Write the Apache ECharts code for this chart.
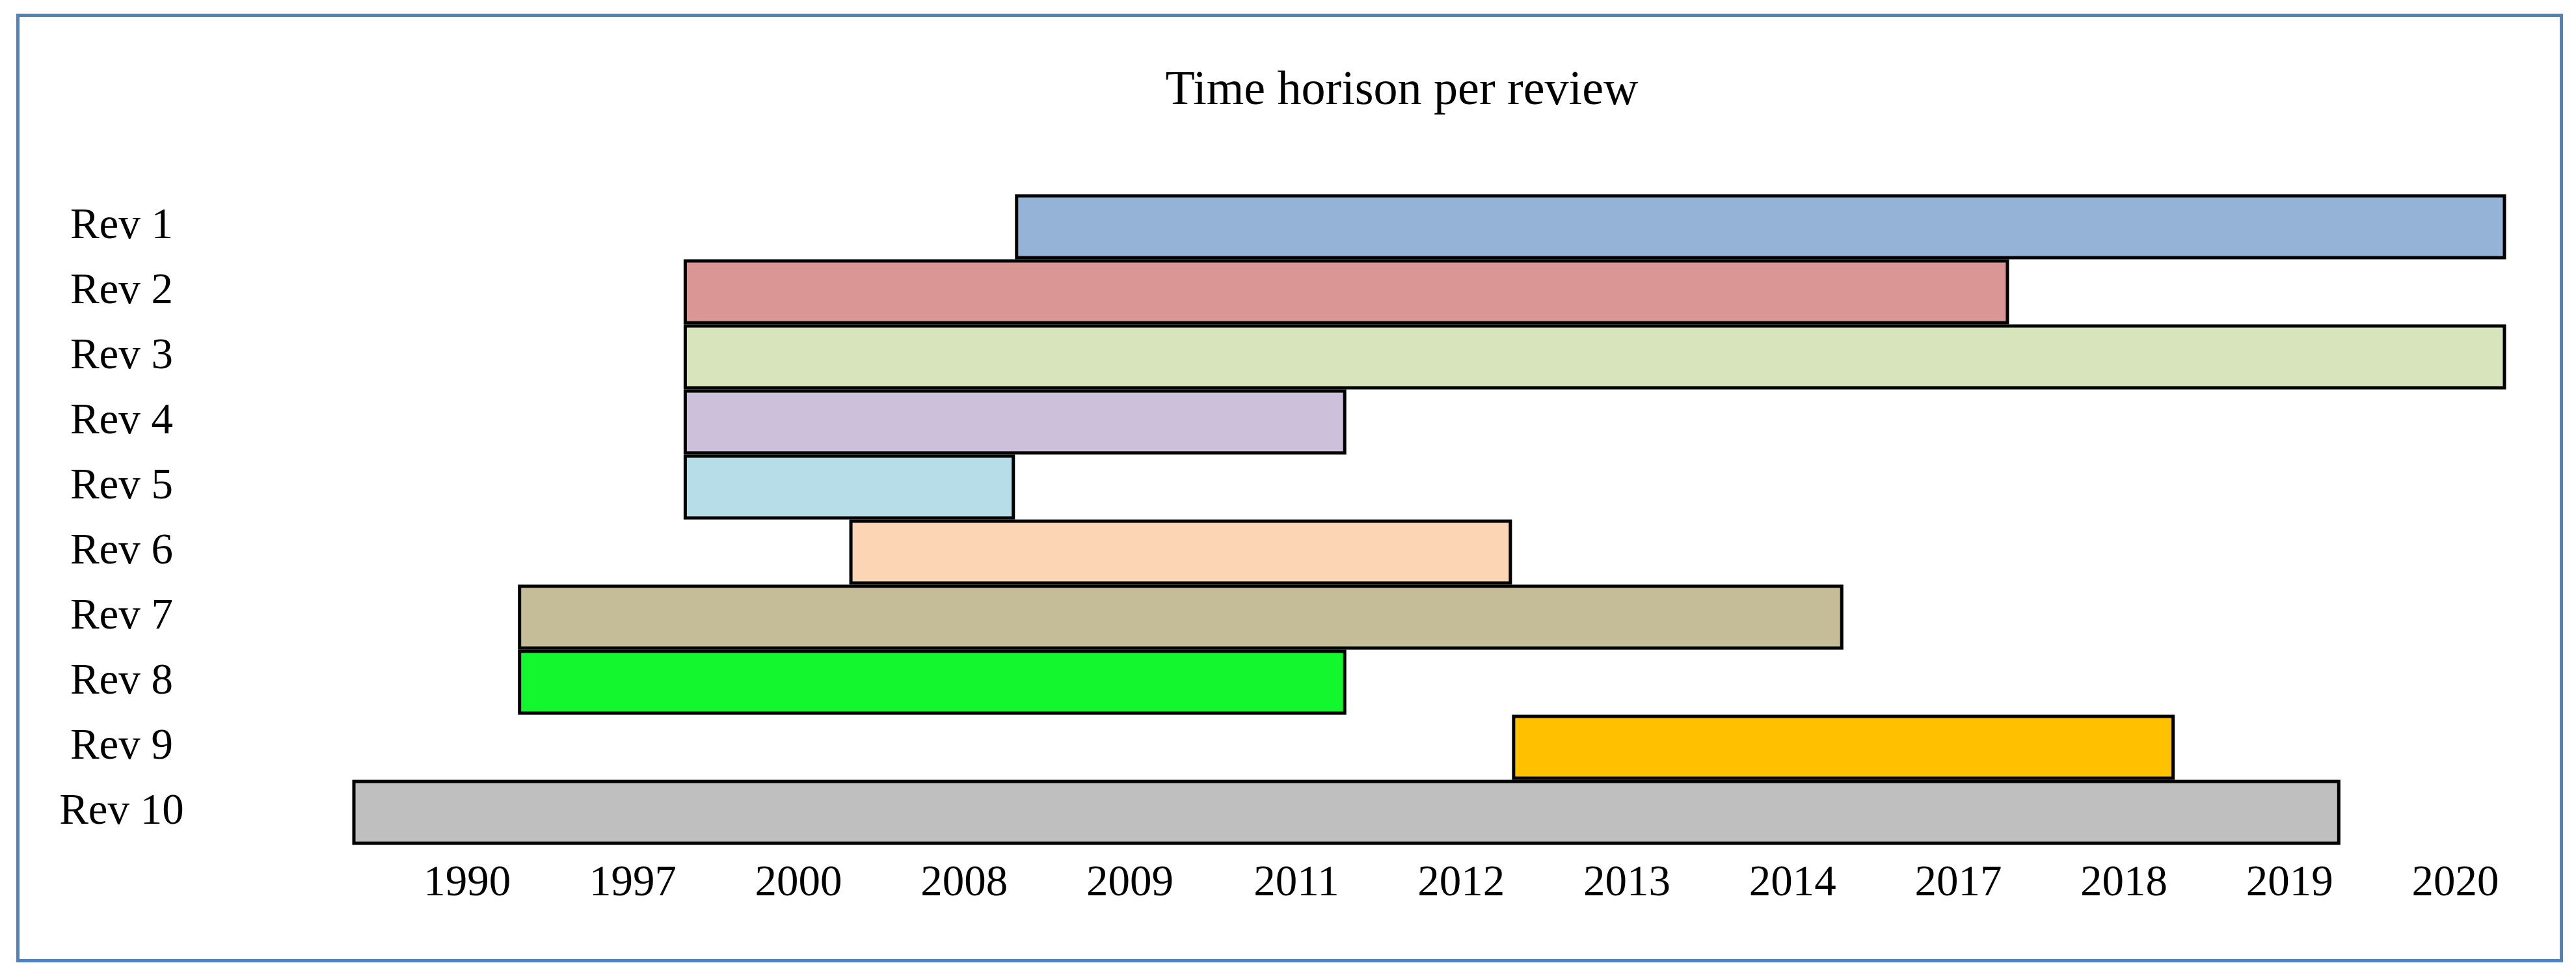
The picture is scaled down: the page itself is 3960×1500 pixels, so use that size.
<!DOCTYPE html>
<html>
<head>
<meta charset="utf-8">
<script src="https://cdn.jsdelivr.net/npm/echarts@6/dist/echarts.min.js"></script>
<style>
  html, body { margin: 0; padding: 0; background: #ffffff; }
  #chart { width: 3960px; height: 1500px; }
</style>
</head>
<body>
<div id="chart"></div>
<script>
// ---- data ----
const reviews = ['Rev 1', 'Rev 2', 'Rev 3', 'Rev 4', 'Rev 5', 'Rev 6', 'Rev 7', 'Rev 8', 'Rev 9', 'Rev 10'];
const years = ['1990', '1997', '2000', '2008', '2009', '2011', '2012', '2013', '2014', '2017', '2018', '2019', '2020'];
const startYear = ['2009', '2000', '2000', '2000', '2000', '2008', '1997', '1997', '2013', '1990'];
const endYear   = ['2020', '2017', '2020', '2011', '2008', '2012', '2014', '2011', '2018', '2019'];
const titleText = 'Time horison per review';

// ---- styles ----
const barColors = ['#95B3D7', '#DA9694', '#D8E4BC', '#CCC0DA', '#B7DEE8', '#FCD5B4', '#C4BD97', '#13F72E', '#FFC000', '#BFBFBF'];
const FONT = '"Liberation Serif", "Times New Roman", serif';

const baseVals = startYear.map(y => years.indexOf(y));
const spanVals = endYear.map((y, i) => years.indexOf(y) + 1 - baseVals[i]);

const chart = echarts.init(document.getElementById('chart'), null, { renderer: 'canvas' });
chart.setOption({
  backgroundColor: '#ffffff',
  animation: false,
  title: {
    text: titleText,
    left: 2155,
    top: 104,
    padding: 0,
    textAlign: 'center',
    textStyle: { fontFamily: FONT, fontSize: 74, fontWeight: 'normal', color: '#000000', lineHeight: 74 }
  },
  grid: { left: 541.5, right: 107.5, top: 298.5, bottom: 201.5, containLabel: false },
  xAxis: {
    type: 'value',
    min: 0,
    max: 13,
    interval: 1,
    axisLine: { show: false },
    axisTick: { show: false },
    splitLine: { show: false },
    axisLabel: {
      formatter: v => (v >= 1 && v <= years.length) ? years[v - 1] : '',
      fontFamily: FONT,
      fontSize: 67,
      lineHeight: 67,
      color: '#000000',
      align: 'right',
      padding: [0, 11, 0, 0],
      margin: 26,
      showMinLabel: true,
      showMaxLabel: true
    }
  },
  yAxis: {
    type: 'category',
    data: reviews,
    inverse: true,
    axisLine: { show: false },
    axisTick: { show: false },
    splitLine: { show: false },
    axisLabel: {
      fontFamily: FONT,
      fontSize: 67,
      color: '#000000',
      align: 'center',
      padding: [4, 0, 0, 0],
      margin: 354.5
    }
  },
  series: [
    {
      type: 'bar',
      stack: 'span',
      data: baseVals,
      barWidth: '100%',
      barCategoryGap: 0,
      itemStyle: { color: 'rgba(0,0,0,0)', borderWidth: 0 },
      silent: true
    },
    {
      type: 'bar',
      stack: 'span',
      data: spanVals.map((v, i) => ({ value: v, itemStyle: { color: barColors[i] } })),
      barWidth: '100%',
      barCategoryGap: 0,
      itemStyle: { borderColor: '#000000', borderWidth: 5 }
    }
  ],
  graphic: [
    {
      type: 'rect',
      shape: { x: 27.5, y: 23.5, width: 3910, height: 1453 },
      style: { fill: 'none', stroke: '#4F81BD', lineWidth: 5 },
      silent: true,
      z: 100
    }
  ]
});
</script>
</body>
</html>
